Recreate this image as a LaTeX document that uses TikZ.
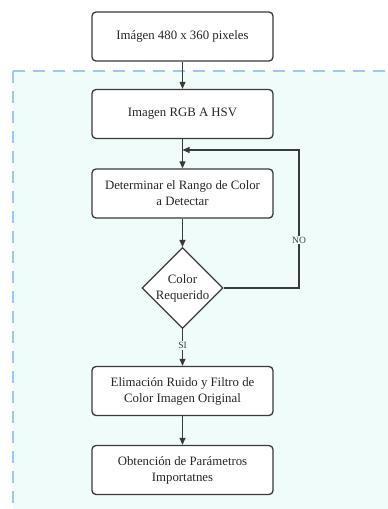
\documentclass[tikz,border=0pt]{standalone}
\usepackage{fontspec}
\setmainfont{Liberation Serif}
\usetikzlibrary{shapes.geometric,arrows.meta}
\definecolor{regionfill}{HTML}{EFFCFA}
\definecolor{regionline}{HTML}{9CC8F5}
\definecolor{edgegray}{HTML}{3A3A3A}
\tikzset{
  stepbox/.style={draw=edgegray, line width=1.3pt, rounded corners=4pt, fill=white,
    minimum width=181pt, minimum height=49pt, align=center, inner sep=2pt,
    font=\fontsize{12.8pt}{16pt}\selectfont, text=black!85},
  decision/.style={draw=edgegray, line width=1.1pt, diamond, fill=white, aspect=1,
    minimum width=78pt, minimum height=78pt, inner sep=0pt, align=center,
    font=\fontsize{12.8pt}{16pt}\selectfont, text=black!85},
  flow/.style={draw=edgegray, line width=1.1pt, -{Triangle[length=7pt,width=6pt]}},
  edgelabel/.style={font=\fontsize{9.5pt}{10pt}\selectfont, fill=regionfill, inner sep=1pt, text=black!75}
}
\begin{document}
\begin{tikzpicture}[x=1pt,y=-1pt]
\useasboundingbox (0,0) rectangle (388,509);
\begin{scope}
  \clip (0,0) rectangle (388,509);
  \draw[regionline, fill=regionfill, line width=1.8pt, dash pattern=on 12pt off 8pt]
    (13,71) rectangle (420,540);
\end{scope}
\node[stepbox] (img)  at (182.5,36.5)  {Imágen 480 x 360 pixeles};
\node[stepbox] (hsv)  at (182.5,114)   {Imagen RGB A HSV};
\node[stepbox] (rng)  at (182.5,193.5) {Determinar el Rango de Color\\a Detectar};
\node[decision] (col) at (182.5,288)   {Color\\Requerido};
\node[stepbox] (fil)  at (182.5,391)   {Elimación Ruido y Filtro de\\Color Imagen Original};
\node[stepbox] (par)  at (182.5,470)   {Obtención de Parámetros\\Importatnes};
\coordinate (join) at (182.5,150);
\coordinate (turn) at (299,288);
\draw[flow] (img) -- (hsv);
\draw[flow] (hsv) -- (rng);
\draw[flow] (rng) -- (col);
\draw[flow] (col.east) -- (turn) -- (turn |- join) -- (join);
\node[edgelabel] at (299,240) {NO};
\draw[flow] (col) -- node[edgelabel, pos=0.45] {SI} (fil);
\draw[flow] (fil) -- (par);
\end{tikzpicture}
\end{document}
